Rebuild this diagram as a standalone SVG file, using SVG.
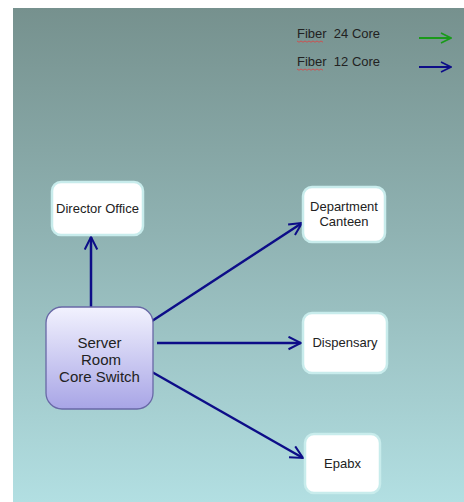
<svg xmlns="http://www.w3.org/2000/svg" width="464" height="502" viewBox="0 0 464 502">
<defs>
<linearGradient id="bg" x1="0" y1="0" x2="0" y2="1">
<stop offset="0" stop-color="#76918e"/>
<stop offset="0.45" stop-color="#8fb2b2"/>
<stop offset="1" stop-color="#b2dfe2"/>
</linearGradient>
<linearGradient id="core" x1="0" y1="0" x2="0" y2="1">
<stop offset="0" stop-color="#f2f2fe"/>
<stop offset="1" stop-color="#a8a5e6"/>
</linearGradient>
<marker id="ah" viewBox="0 0 12 12" refX="11" refY="6" markerWidth="6" markerHeight="6" orient="auto" markerUnits="strokeWidth">
<path d="M1,1 L11,6 L1,11" fill="none" stroke="#0d0d88" stroke-width="1.6"/>
</marker>
<marker id="ahg" viewBox="0 0 12 12" refX="11" refY="6" markerWidth="6" markerHeight="6" orient="auto" markerUnits="strokeWidth">
<path d="M1,1 L11,6 L1,11" fill="none" stroke="#1a9a1a" stroke-width="1.6"/>
</marker>
</defs>
<style>
.box{fill:#ffffff;stroke:#c8ecec;stroke-width:2.5}
.t{font-family:"Liberation Sans",Arial,sans-serif;font-size:13px;fill:#222}
.tc{font-family:"Liberation Sans",Arial,sans-serif;font-size:15px;fill:#222;text-anchor:middle}
.lg{font-family:"Liberation Sans",Arial,sans-serif;font-size:13px;fill:#222;white-space:pre}
.c{stroke:#0d0d88;stroke-width:2.5;fill:none;marker-end:url(#ah)}
.sq{fill:none;stroke:#e04040;stroke-width:0.8}
</style>
<rect x="0" y="0" width="464" height="502" fill="#ffffff"/>
<rect x="13" y="8" width="451" height="494" fill="url(#bg)"/>
<g id="legend">
<text class="lg" x="297" y="38" xml:space="preserve">Fiber  24 Core</text>
<path class="sq" d="M297,41 l2,1.2 l2,-1.2 l2,1.2 l2,-1.2 l2,1.2 l2,-1.2 l2,1.2 l2,-1.2 l2,1.2 l2,-1.2 l2,1.2 l2,-1.2 l2,1.2"/>
<line x1="419" y1="38" x2="451" y2="38" stroke="#1a9a1a" stroke-width="2" marker-end="url(#ahg)"/>
<text class="lg" x="297" y="66" xml:space="preserve">Fiber  12 Core</text>
<path class="sq" d="M297,69 l2,1.2 l2,-1.2 l2,1.2 l2,-1.2 l2,1.2 l2,-1.2 l2,1.2 l2,-1.2 l2,1.2 l2,-1.2 l2,1.2 l2,-1.2 l2,1.2"/>
<line x1="419" y1="67" x2="451" y2="67" stroke="#0d0d88" stroke-width="2" marker-end="url(#ah)"/>
</g>
<g id="connectors">
<line class="c" x1="91" y1="307" x2="91" y2="237"/>
<line class="c" x1="152" y1="321" x2="302" y2="223"/>
<line class="c" x1="157" y1="343" x2="301" y2="343"/>
<line class="c" x1="152" y1="372" x2="303" y2="458"/>
</g>
<g id="director">
<rect class="box" x="52" y="182" width="91" height="53" rx="9"/>
<text class="t" x="97.5" y="213" text-anchor="middle">Director Office</text>
</g>
<g id="canteen">
<rect class="box" x="303" y="187" width="82" height="55" rx="9"/>
<text class="t" x="344" y="211" text-anchor="middle">Department</text>
<text class="t" x="344" y="226" text-anchor="middle">Canteen</text>
</g>
<g id="core">
<rect x="46" y="307" width="107" height="102" rx="16" fill="url(#core)" stroke="#6868a6" stroke-width="1.3"/>
<text class="tc" x="99.5" y="348">Server</text>
<text class="tc" x="101" y="365">Room</text>
<text class="tc" x="99.5" y="382">Core Switch</text>
</g>
<g id="dispensary">
<rect class="box" x="303" y="313" width="84" height="60" rx="9"/>
<text class="t" x="345" y="347" text-anchor="middle">Dispensary</text>
</g>
<g id="epabx">
<rect class="box" x="305" y="434" width="75" height="59" rx="9"/>
<text class="t" x="342.5" y="468" text-anchor="middle">Epabx</text>
</g>
</svg>
